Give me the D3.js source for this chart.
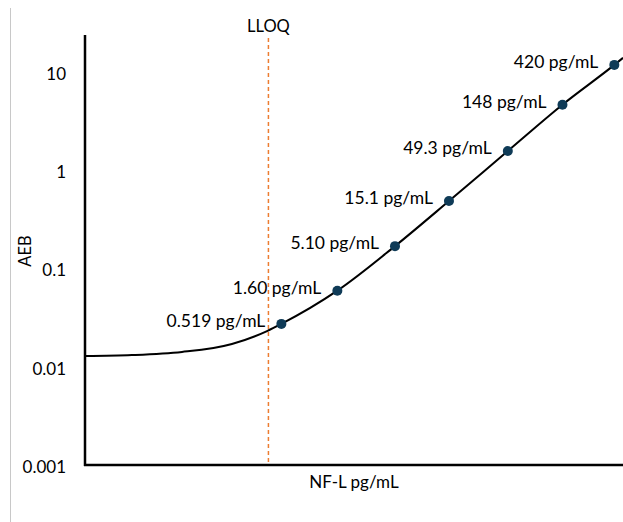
<!DOCTYPE html>
<html>
<head>
<meta charset="utf-8">
<script src="https://cdn.jsdelivr.net/npm/d3@7"></script>
<style>
  body { margin: 0; background: #fff; }
  text { font-family: Lato, "Open Sans", sans-serif; fill: #000; }
</style>
</head>
<body>
<div id="chart"></div>
<script>
// calibrator concentrations (pg/mL) and measured AEB
const concentrations = [0.519, 1.60, 5.10, 15.1, 49.3, 148, 420];
const aebValues = [0.0272, 0.0592, 0.168, 0.483, 1.56, 4.61, 11.7];
const pointLabels = ["0.519 pg/mL", "1.60 pg/mL", "5.10 pg/mL", "15.1 pg/mL", "49.3 pg/mL", "148 pg/mL", "420 pg/mL"];

// fitted curve
const fitX = [0.01, 0.0257, 0.0703, 0.192, 0.389, 0.519, 1.60, 5.10, 15.1, 49.3, 148, 420, 500];
const fitY = [0.0128, 0.0131, 0.0141, 0.0170, 0.0230, 0.0272, 0.0592, 0.168, 0.483, 1.56, 4.61, 11.7, 13.8];

const yTicks = [0.001, 0.01, 0.1, 1, 10];
const yTickLabels = ["0.001", "0.01", "0.1", "1", "10"];
const lloq = 0.4;
const xDomain = [0.01, 500];
const yTop = 23.6;

const width = 623, height = 522;
const left = 85, right = 623, bottom = 465;
const decade = 98.35;

const svg = d3.select("#chart").append("svg")
    .attr("width", width)
    .attr("height", height);

const x = d3.scaleLog().domain(xDomain).range([left, right]);
const y = d3.scaleLog().domain([0.001, 10]).range([bottom, bottom - 4 * decade]);

// light frame edge on the left
svg.append("line")
    .attr("x1", 10.5).attr("x2", 10.5)
    .attr("y1", 8).attr("y2", height)
    .attr("stroke", "#c8c8c8").attr("stroke-width", 1);

// y axis
const yAxis = d3.axisLeft(y)
    .tickValues(yTicks)
    .tickSize(0)
    .tickPadding(19)
    .tickFormat((d, i) => yTickLabels[i]);

const gy = svg.append("g")
    .attr("transform", `translate(${left},0)`)
    .call(yAxis);
gy.select(".domain").remove();
gy.selectAll("text")
    .style("font-size", "17px")
    .style("font-family", "Lato, sans-serif")
    .attr("fill", "#000")
    .attr("dy", "0.45em");

svg.append("line")
    .attr("x1", left).attr("x2", left)
    .attr("y1", y(yTop)).attr("y2", bottom + 1)
    .attr("stroke", "#000").attr("stroke-width", 2.5);

svg.append("line")
    .attr("x1", left - 1).attr("x2", right)
    .attr("y1", bottom).attr("y2", bottom)
    .attr("stroke", "#000").attr("stroke-width", 2.5);

// LLOQ marker
svg.append("line")
    .attr("x1", x(lloq)).attr("x2", x(lloq))
    .attr("y1", 38).attr("y2", bottom)
    .attr("stroke", "#ED7D31").attr("stroke-width", 1.5)
    .attr("stroke-dasharray", "4,3");

svg.append("text")
    .attr("x", x(lloq))
    .attr("y", 32)
    .attr("text-anchor", "middle")
    .style("font-size", "16.5px")
    .text("LLOQ");

// fitted curve
const fit = fitX.map((d, i) => ({ x: d, y: fitY[i] }));
const line = d3.line()
    .x(d => x(d.x))
    .y(d => y(d.y))
    .curve(d3.curveMonotoneX);

svg.append("path")
    .datum(fit)
    .attr("fill", "none")
    .attr("stroke", "#000")
    .attr("stroke-width", 2)
    .attr("d", line);

// points + labels
const pts = concentrations.map((c, i) => ({ c, v: aebValues[i], label: pointLabels[i] }));

svg.selectAll(".pt")
    .data(pts)
    .enter()
    .append("circle")
    .attr("class", "pt")
    .attr("cx", d => x(d.c))
    .attr("cy", d => y(d.v))
    .attr("r", 5)
    .attr("fill", "#0f3b57");

svg.selectAll(".lbl")
    .data(pts)
    .enter()
    .append("text")
    .attr("class", "lbl")
    .attr("x", d => x(d.c) - 16)
    .attr("y", d => y(d.v) - 3)
    .attr("dy", "0.35em")
    .attr("text-anchor", "end")
    .style("font-size", "17.5px")
    .text(d => d.label);

// axis titles
svg.append("text")
    .attr("x", 354)
    .attr("y", 488)
    .attr("text-anchor", "middle")
    .style("font-size", "17px")
    .text("NF-L pg/mL");

svg.append("text")
    .attr("transform", "rotate(-90)")
    .attr("x", -251)
    .attr("y", 31)
    .attr("text-anchor", "middle")
    .style("font-size", "16.5px")
    .text("AEB");
</script>
</body>
</html>
